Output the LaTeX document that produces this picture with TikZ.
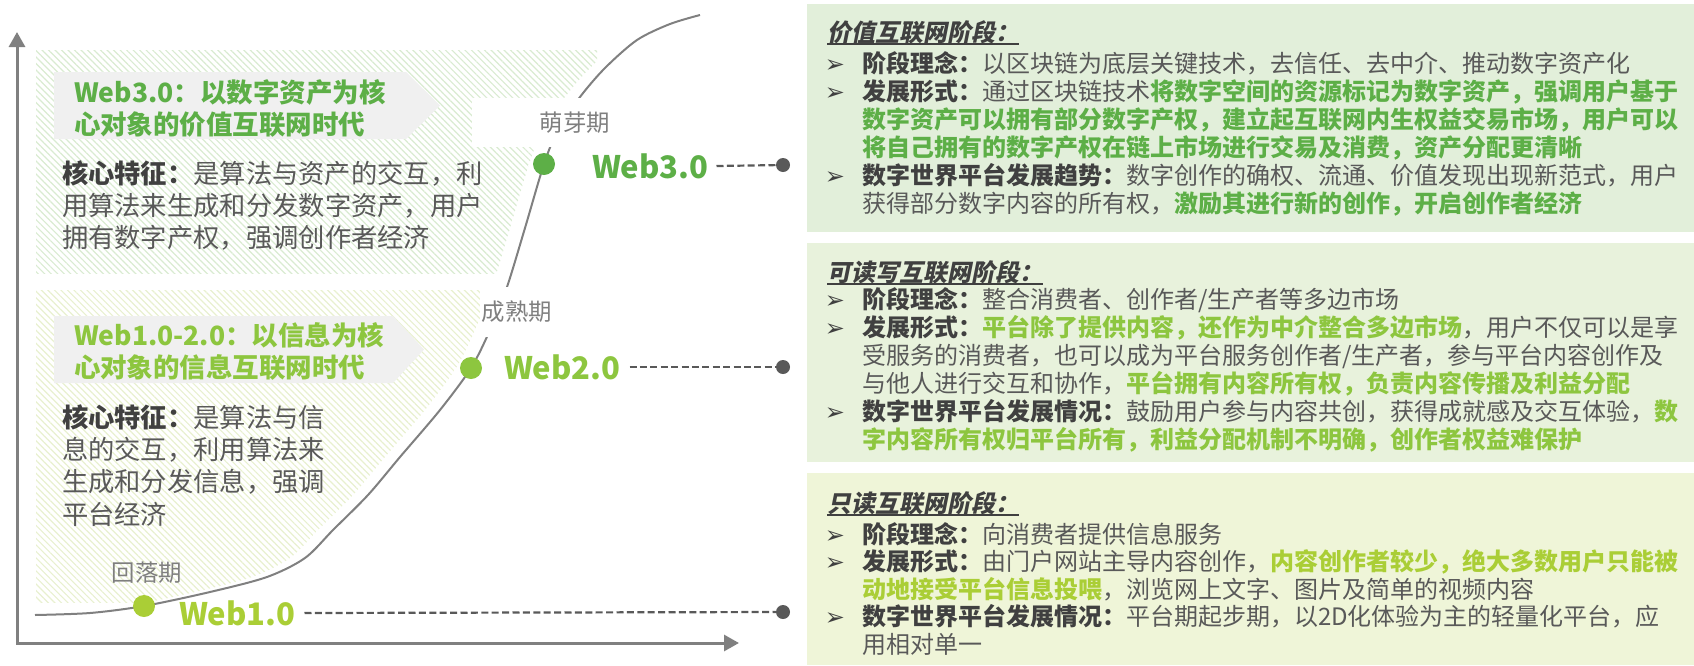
\documentclass[tikz,border=0pt]{standalone}
\usepackage{fontspec}
\setmainfont{Noto Sans CJK SC}
\newfontfamily\slantfont{Noto Sans CJK SC}[FakeSlant=0.2]
\newfontfamily\symfont{DejaVu Sans}
\usepackage{tikz}
\usetikzlibrary{arrows.meta,patterns.meta}
\definecolor{gthree}{HTML}{5DAF47}
\definecolor{gtwo}{HTML}{8DC63F}
\definecolor{gone}{HTML}{AACE36}
\definecolor{bodygrey}{HTML}{595959}
\definecolor{labelgrey}{HTML}{404040}
\definecolor{phasegrey}{HTML}{7F7F7F}
\definecolor{axisgrey}{HTML}{808080}
\definecolor{bannerfill}{HTML}{F0F0F0}
\definecolor{hatchup}{HTML}{D9EBD1}
\definecolor{hatchdown}{HTML}{E8F0CF}
\definecolor{pone}{HTML}{E2EFDA}
\definecolor{ptwo}{HTML}{E8F2DC}
\definecolor{pthree}{HTML}{EFF5D8}
\newcommand{\hl}[2]{{\bfseries\color{#1}#2}}
\newcommand{\lbl}[1]{{\bfseries\color{labelgrey}#1}}

\begin{document}
\begin{tikzpicture}[x=0.5pt,y=-0.5pt,
    every node/.style={inner sep=0pt,outer sep=0pt},
    axisline/.style={draw=axisgrey,line width=1.5pt,{Triangle[length=7.5pt,width=8pt]}-{Triangle[length=7.5pt,width=8pt]}},
    growth/.style={draw=axisgrey,line width=1pt},
    hatchup/.style={pattern={Lines[angle=-45,distance=2.3pt,line width=0.6pt]},pattern color=hatchup},
    hatchdown/.style={pattern={Lines[angle=-45,distance=2.3pt,line width=0.6pt]},pattern color=hatchdown},
    ltitle/.style={anchor=base west,align=left,text width=220pt,font=\bfseries\fontsize{13.25pt}{16pt}\selectfont},
    lbody/.style={anchor=base west,align=left,text width=220pt,text=bodygrey,font=\fontsize{13.15pt}{16.2pt}\selectfont},
    phase/.style={text=phasegrey,font=\fontsize{11.7pt}{14pt}\selectfont},
    weblbl/.style={anchor=west,font=\bfseries\fontsize{15.5pt}{18pt}\selectfont},
    dot/.style={circle,minimum size=11pt},
    enddot/.style={circle,fill=bodygrey,minimum size=7pt},
    dashline/.style={draw=bodygrey,line width=1.1pt,dash pattern=on 3.5pt off 1.7pt},
    ptitle/.style={anchor=base west,text=labelgrey,font=\slantfont\bfseries\fontsize{12pt}{14pt}\selectfont},
    ulline/.style={draw=labelgrey,line width=1pt},
    bullet/.style={anchor=base,text=labelgrey,font=\symfont\fontsize{12pt}{14pt}\selectfont},
    item/.style={anchor=base west,align=left,text width=420pt,text=bodygrey,font=\fontsize{12pt}{14pt}\selectfont},
    itemthree/.style={item,font=\fontsize{12pt}{13.75pt}\selectfont}]

\useasboundingbox (0,0) rectangle (1694,665);

\begin{scope}
\clip[shift={(-15,0)}] plot[smooth,tension=0.5] coordinates {(35,615) (90,613) (144,606) (210,592) (267,577) (305,558) (333,530) (368,495) (400,457) (440,410) (471,368) (490,330) (507,287) (525,228) (544,164) (558,130) (580,97) (605,68) (637,40) (670,24) (700,15)} -- (700,-20) -- (-50,-20) -- (-50,700) -- (35,700) -- cycle;
\fill[hatchup] (36,50) rectangle (597,273);
\fill[hatchdown] (36,290) rectangle (620,602);
\end{scope}

\draw[growth] plot[smooth,tension=0.5] coordinates {(35,615) (90,613) (144,606) (210,592) (267,577) (305,558) (333,530) (368,495) (400,457) (440,410) (471,368) (490,330) (507,287) (525,228) (544,164) (558,130) (580,97) (605,68) (637,40) (670,24) (700,15)};

\fill[white] (472,98) rectangle (625,147);
\fill[white] (480,287) rectangle (556,337);

\fill[bannerfill] (54,72) -- (406,72) -- (440,105.5) -- (406,139) -- (54,139) -- cycle;
\fill[bannerfill] (54,316) -- (393,316) -- (424,349.5) -- (393,383) -- (54,383) -- cycle;

\coordinate (ytop) at (17,32);
\coordinate (origin) at (17,643);
\coordinate (xend) at (739,643);
\draw[axisline] (ytop) -- (origin) -- (xend);

\node[ltitle,text=gthree] (webthreetitle) at (74,102) {Web3.0：以数字资产为核\\心对象的价值互联网时代};
\node[lbody] (webthreecore) at (62,183) {\lbl{核心特征：}是算法与资产的交互，利\\用算法来生成和分发数字资产，用户\\拥有数字产权，强调创作者经济};
\node[ltitle,text=gtwo] (webtwotitle) at (74,345) {Web1.0-2.0：以信息为核\\心对象的信息互联网时代};
\node[lbody] (webtwocore) at (62,427) {\lbl{核心特征：}是算法与信\\息的交互，利用算法来\\生成和分发信息，强调\\平台经济};

\node[phase] (sprout) at (575,123) {萌芽期};
\node[phase] (mature) at (517,312) {成熟期};
\node[phase] (decline) at (147,573) {回落期};

\node[dot,fill=gthree] (dotthree) at (544,164) {};
\node[dot,fill=gtwo] (dottwo) at (471,368) {};
\node[dot,fill=gone] (dotone) at (144,606) {};

\node[weblbl,text=gthree] (webthree) at (592,166) {Web3.0};
\node[weblbl,text=gtwo] (webtwo) at (504,367) {Web2.0};
\node[weblbl,text=gone] (webone) at (179,613) {Web1.0};

\node[enddot] (endthree) at (783,165) {};
\node[enddot] (endtwo) at (783,367) {};
\node[enddot] (endone) at (783,612) {};
\draw[dashline] ([xshift=4pt]webthree.east) -- (endthree);
\draw[dashline] ([xshift=4.5pt]webtwo.east) -- (endtwo);
\draw[dashline] ([xshift=4.5pt]webone.east) -- (endone);

\fill[pone] (807,4) rectangle (1694,232);
\fill[ptwo] (807,243) rectangle (1694,462);
\fill[pthree] (807,473) rectangle (1694,665);

\node[ptitle] (valuetitle) at (827,41) {价值互联网阶段：};
\draw[ulline] ([yshift=-1.5pt]valuetitle.base west) -- ([yshift=-1.5pt]valuetitle.base east);
\node[bullet] (valuemarka) at (835,72.5) {➢};
\node[item] (valueitema) at (862,72.5) {\lbl{阶段理念：}以区块链为底层关键技术，去信任、去中介、推动数字资产化};
\node[bullet] (valuemarkb) at (835,100.5) {➢};
\node[item] (valueitemb) at (862,100.5) {\lbl{发展形式：}通过区块链技术\hl{gthree}{将数字空间的资源标记为数字资产，强调用户基于\\数字资产可以拥有部分数字产权，建立起互联网内生权益交易市场，用户可以\\将自己拥有的数字产权在链上市场进行交易及消费，资产分配更清晰}};
\node[bullet] (valuemarkc) at (835,184.5) {➢};
\node[item] (valueitemc) at (862,184.5) {\lbl{数字世界平台发展趋势：}数字创作的确权、流通、价值发现出现新范式，用户\\获得部分数字内容的所有权，\hl{gthree}{激励其进行新的创作，开启创作者经济}};

\node[ptitle] (rwtitle) at (827,281) {可读写互联网阶段：};
\draw[ulline] ([yshift=-1.5pt]rwtitle.base west) -- ([yshift=-1.5pt]rwtitle.base east);
\node[bullet] (rwmarka) at (835,308) {➢};
\node[item] (rwitema) at (862,308) {\lbl{阶段理念：}整合消费者、创作者/生产者等多边市场};
\node[bullet] (rwmarkb) at (835,336) {➢};
\node[item] (rwitemb) at (862,336) {\lbl{发展形式：}\hl{gtwo}{平台除了提供内容，还作为中介整合多边市场}，用户不仅可以是享\\受服务的消费者，也可以成为平台服务创作者/生产者，参与平台内容创作及\\与他人进行交互和协作，\hl{gtwo}{平台拥有内容所有权，负责内容传播及利益分配}};
\node[bullet] (rwmarkc) at (835,420) {➢};
\node[item] (rwitemc) at (862,420) {\lbl{数字世界平台发展情况：}鼓励用户参与内容共创，获得成就感及交互体验，\hl{gtwo}{数\\字内容所有权归平台所有，利益分配机制不明确，创作者权益难保护}};

\node[ptitle] (readtitle) at (827,512) {只读互联网阶段：};
\draw[ulline] ([yshift=-1.5pt]readtitle.base west) -- ([yshift=-1.5pt]readtitle.base east);
\node[bullet] (readmarka) at (835,543) {➢};
\node[itemthree] (readitema) at (862,543) {\lbl{阶段理念：}向消费者提供信息服务};
\node[bullet] (readmarkb) at (835,570.5) {➢};
\node[itemthree] (readitemb) at (862,570.5) {\lbl{发展形式：}由门户网站主导内容创作，\hl{gone}{内容创作者较少，绝大多数用户只能被\\动地接受平台信息投喂}，浏览网上文字、图片及简单的视频内容};
\node[bullet] (readmarkc) at (835,625.5) {➢};
\node[itemthree] (readitemc) at (862,625.5) {\lbl{数字世界平台发展情况：}平台期起步期，以2D化体验为主的轻量化平台，应\\用相对单一};
\end{tikzpicture}
\end{document}
